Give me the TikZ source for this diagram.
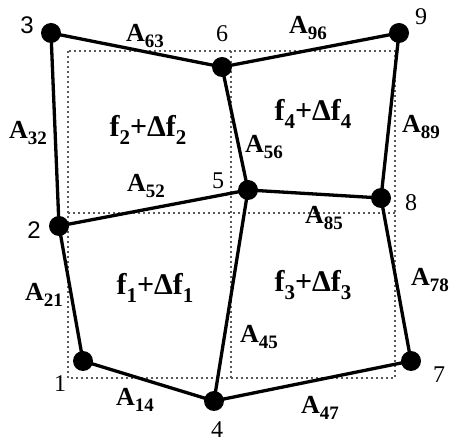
\documentclass[tikz,border=0pt]{standalone}
\usepackage{fontspec}
\setmainfont{Liberation Serif}
\newfontfamily\numsans{Liberation Sans}
\newcommand\Alab[1]{A\raisebox{-0.55ex}{\fontsize{19}{19}\selectfont #1}}
\newcommand\Flab[1]{f\raisebox{-0.55ex}{\fontsize{21}{21}\selectfont #1}+Δf\raisebox{-0.55ex}{\fontsize{21}{21}\selectfont #1}}
\begin{document}
\begin{tikzpicture}[x=1pt,y=-1pt,
  vertex/.style={circle,fill=black,inner sep=0pt,minimum size=20pt},
  edge/.style={line width=3.3pt},
  gridline/.style={line width=2pt,dash pattern=on 2pt off 3pt,black!65},
  num/.style={font=\fontsize{24}{24}\selectfont,inner sep=0pt},
  elab/.style={font=\fontsize{26}{26}\selectfont\bfseries,inner sep=0pt},
  flab/.style={font=\fontsize{30}{30}\selectfont\bfseries,inner sep=0pt}]
\useasboundingbox (0,0) rectangle (450,443);
\fill[white] (0,0) rectangle (450,443);
% dotted grid
\draw[gridline] (68,51) rectangle (395,378);
\draw[gridline] (231,51) -- (231,378);
\draw[gridline] (68,213) -- (395,213);
% vertices
\node[vertex] (v1) at (83,361) {};
\node[vertex] (v2) at (59,226) {};
\node[vertex] (v3) at (51,33) {};
\node[vertex] (v4) at (214,401) {};
\node[vertex] (v5) at (248,190) {};
\node[vertex] (v6) at (222,67) {};
\node[vertex] (v7) at (411,361) {};
\node[vertex] (v8) at (381,198) {};
\node[vertex] (v9) at (399,33) {};
% edges
\draw[edge] (v3.center) -- (v6.center) -- (v9.center);
\draw[edge] (v3.center) -- (v2.center) -- (v1.center) -- (v4.center) -- (v7.center) -- (v8.center) -- (v9.center);
\draw[edge] (v6.center) -- (v5.center) -- (v4.center);
\draw[edge] (v2.center) -- (v5.center) -- (v8.center);
% vertex numbers
\node[num] (n1) at (60,384) {1};
\node[num] (n2) at (34,230) {\numsans 2};
\node[num] (n3) at (27,25) {\numsans 3};
\node[num] (n4) at (217,430) {4};
\node[num] (n5) at (218,181) {5};
\node[num] (n6) at (222,34) {6};
\node[num] (n7) at (439,375) {7};
\node[num] (n8) at (411,203) {8};
\node[num] (n9) at (421,17) {9};
% edge labels
\node[elab] (a63) at (145,36) {\Alab{63}};
\node[elab] (a96) at (308,28) {\Alab{96}};
\node[elab] (a32) at (28,133) {\Alab{32}};
\node[elab] (a89) at (421,127) {\Alab{89}};
\node[elab] (a56) at (264,147) {\Alab{56}};
\node[elab] (a52) at (146,186) {\Alab{52}};
\node[elab] (a85) at (324,218) {\Alab{85}};
\node[elab] (a21) at (44,295) {\Alab{21}};
\node[elab] (a78) at (430,280) {\Alab{78}};
\node[elab] (a45) at (259,337) {\Alab{45}};
\node[elab] (a14) at (135,400) {\Alab{14}};
\node[elab] (a47) at (320,408) {\Alab{47}};
% face labels
\node[flab] (f2) at (148,130) {\Flab{2}};
\node[flab] (f4) at (313,114) {\Flab{4}};
\node[flab] (f1) at (155,288) {\Flab{1}};
\node[flab] (f3) at (313,285) {\Flab{3}};
\end{tikzpicture}
\end{document}
